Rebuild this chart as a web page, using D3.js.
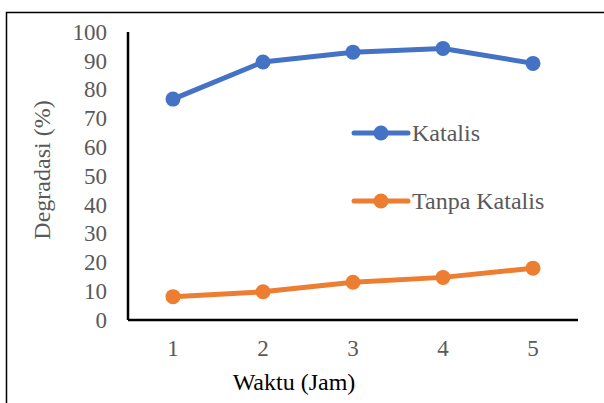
<!DOCTYPE html>
<html>
<head>
<meta charset="utf-8">
<script src="https://cdn.jsdelivr.net/npm/d3@7"></script>
<style>
  body { margin: 0; background: #fff; }
  svg { display: block; font-family: "Liberation Serif", "Times New Roman", serif; }
</style>
</head>
<body>
<svg id="chart" width="604" height="403"></svg>
<script>
const waktu = [1, 2, 3, 4, 5];
const katalis = [76.7, 89.6, 93.0, 94.3, 89.1];
const tanpaKatalis = [8.1, 9.8, 13.1, 14.8, 18.0];
const yTicks = [0, 10, 20, 30, 40, 50, 60, 70, 80, 90, 100];
const seriesNames = ["Katalis", "Tanpa Katalis"];
const seriesColors = ["#4472C4", "#ED7D31"];

const svg = d3.select("#chart");

// outer frame (only top and left edges fall inside the picture)
svg.append("rect")
    .attr("x", 6.5).attr("y", 12.5)
    .attr("width", 700).attr("height", 500)
    .attr("fill", "none").attr("stroke", "#000").attr("stroke-width", 1.5);

const plotL = 128, plotR = 578, plotT = 32, plotB = 320;

const x = d3.scaleBand().domain(waktu).range([plotL, plotR]);
const y = d3.scaleLinear().domain([0, 100]).range([plotB, plotT]);

const xAxis = svg.append("g")
    .attr("transform", `translate(0, ${plotB})`)
    .call(d3.axisBottom(x).tickSize(0).tickPadding(20));
xAxis.select(".domain").attr("stroke", "#000").attr("stroke-width", 2.5)
    .attr("d", `M${plotL},0H${plotR}`);
xAxis.selectAll("text").attr("font-size", 23).attr("fill", "#595959")
    .attr("font-family", "Liberation Serif");

const yAxis = svg.append("g")
    .attr("transform", `translate(${plotL}, 0)`)
    .call(d3.axisLeft(y).tickValues(yTicks).tickSize(0).tickPadding(21));
yAxis.select(".domain").attr("stroke", "#000").attr("stroke-width", 2.5)
    .attr("d", `M0,${plotT}V${plotB}`);
yAxis.selectAll("text").attr("font-size", 23).attr("fill", "#595959")
    .attr("font-family", "Liberation Serif");

svg.append("text")
    .attr("transform", "rotate(-90)")
    .attr("x", -170)
    .attr("y", 50)
    .attr("text-anchor", "middle")
    .attr("font-size", 24)
    .attr("fill", "#595959")
    .text("Degradasi (%)");

svg.append("text")
    .attr("x", 294)
    .attr("y", 390)
    .attr("text-anchor", "middle")
    .attr("font-size", 24)
    .attr("fill", "#000")
    .text("Waktu (Jam)");

const cx = d => x(d) + x.bandwidth() / 2;
const line = d3.line().x((d, i) => cx(waktu[i])).y(d => y(d));

[katalis, tanpaKatalis].forEach((vals, s) => {
    svg.append("path")
        .datum(vals)
        .attr("fill", "none")
        .attr("stroke", seriesColors[s])
        .attr("stroke-width", 5)
        .attr("stroke-linejoin", "round")
        .attr("d", line);
    svg.selectAll(null)
        .data(vals)
        .enter()
        .append("circle")
        .attr("cx", (d, i) => cx(waktu[i]))
        .attr("cy", d => y(d))
        .attr("r", 7.5)
        .attr("fill", seriesColors[s]);
});

// legend
const legendY = [133, 201];
seriesNames.forEach((name, s) => {
    const g = svg.append("g").attr("transform", `translate(352, ${legendY[s]})`);
    g.append("line")
        .attr("x1", 2).attr("x2", 56)
        .attr("stroke", seriesColors[s]).attr("stroke-width", 5)
        .attr("stroke-linecap", "round");
    g.append("circle").attr("cx", 29).attr("r", 7.5).attr("fill", seriesColors[s]);
    g.append("text")
        .attr("x", 60).attr("y", 8)
        .attr("font-size", 24).attr("fill", "#595959")
        .text(name);
});
</script>
</body>
</html>
